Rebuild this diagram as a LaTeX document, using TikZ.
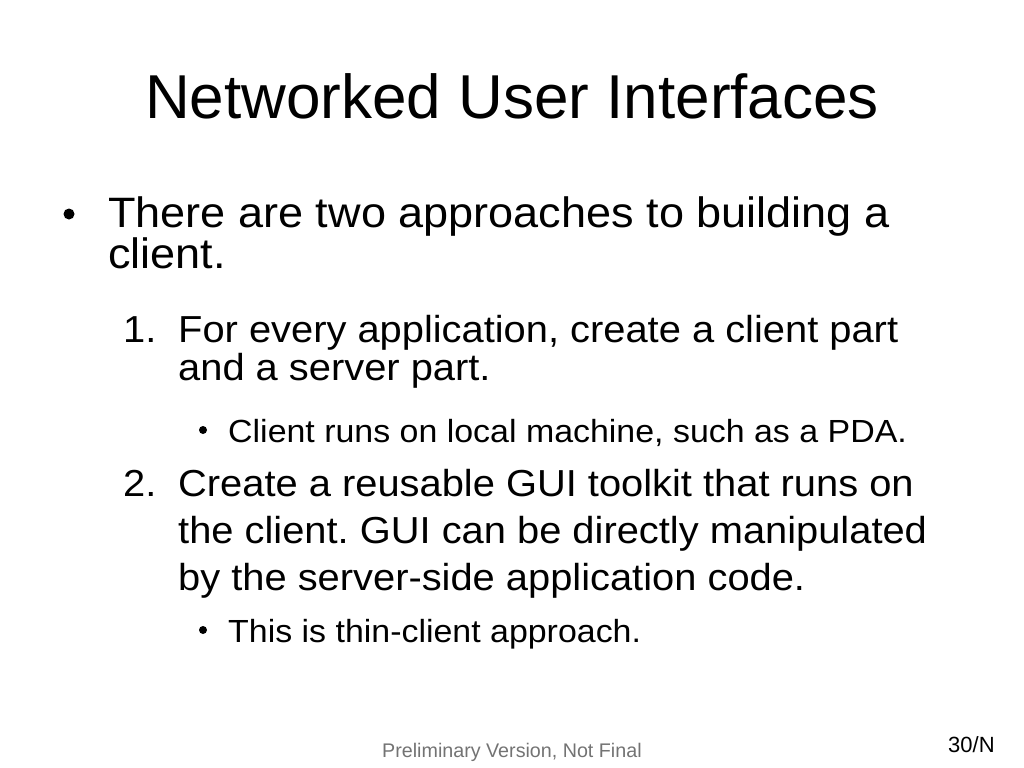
\documentclass[tikz,border=0pt]{standalone}
\usepackage{fontspec}
\setmainfont{Liberation Sans}
\newfontfamily\bodyfont[FakeStretch=1.06]{Liberation Sans}
\frenchspacing
\begin{document}
\begin{tikzpicture}[x=1bp,y=-1bp,
    every node/.style={inner sep=0pt,anchor=base west},
    ttl/.style={anchor=base,font=\fontsize{62bp}{62bp}\selectfont},
    lone/.style={font=\bodyfont\fontsize{42.5bp}{43bp}\selectfont},
    ltwo/.style={font=\bodyfont\fontsize{37.6bp}{38bp}\selectfont},
    lthree/.style={font=\bodyfont\fontsize{32bp}{32bp}\selectfont},
    dot/.style={anchor=center,circle,fill=black,minimum size=#1},
    foot/.style={font=\fontsize{19.7bp}{20bp}\selectfont,color=black!55}]
    \useasboundingbox (0,0) rectangle (1024,768);
    \node (title) at (512,118) [ttl] {Networked User Interfaces};
    % first level
    \node (bulA) at (69,214) [dot=11bp] {};
    \node (lineA) at (108,227) [lone] {There are two approaches to building a};
    \node (lineB) at (108,268) [lone] {client.};
    % item 1
    \node (numA) at (123,342) [ltwo] {1.};
    \node (itmA) at (178,342) [ltwo] {For every application, create a client part};
    \node (itmB) at (178,380) [ltwo] {and a server part.};
    \node (bulB) at (203,430) [dot=8bp] {};
    \node (subA) at (228,442) [lthree] {Client runs on local machine, such as a PDA.};
    % item 2
    \node (numB) at (123,496) [ltwo] {2.};
    \node (itmC) at (178,496) [ltwo] {Create a reusable GUI toolkit that runs on};
    \node (itmD) at (178,543) [ltwo] {the client. GUI can be directly manipulated};
    \node (itmE) at (178,590) [ltwo] {by the server-side application code.};
    \node (bulC) at (203,630) [dot=8bp] {};
    \node (subB) at (228,642) [lthree] {This is thin-client approach.};
    % footer
    \node (note) at (382,757) [foot] {Preliminary Version, Not Final};
    \node (page) at (948,752) [font=\fontsize{22bp}{22bp}\selectfont] {30/N};
\end{tikzpicture}
\end{document}
